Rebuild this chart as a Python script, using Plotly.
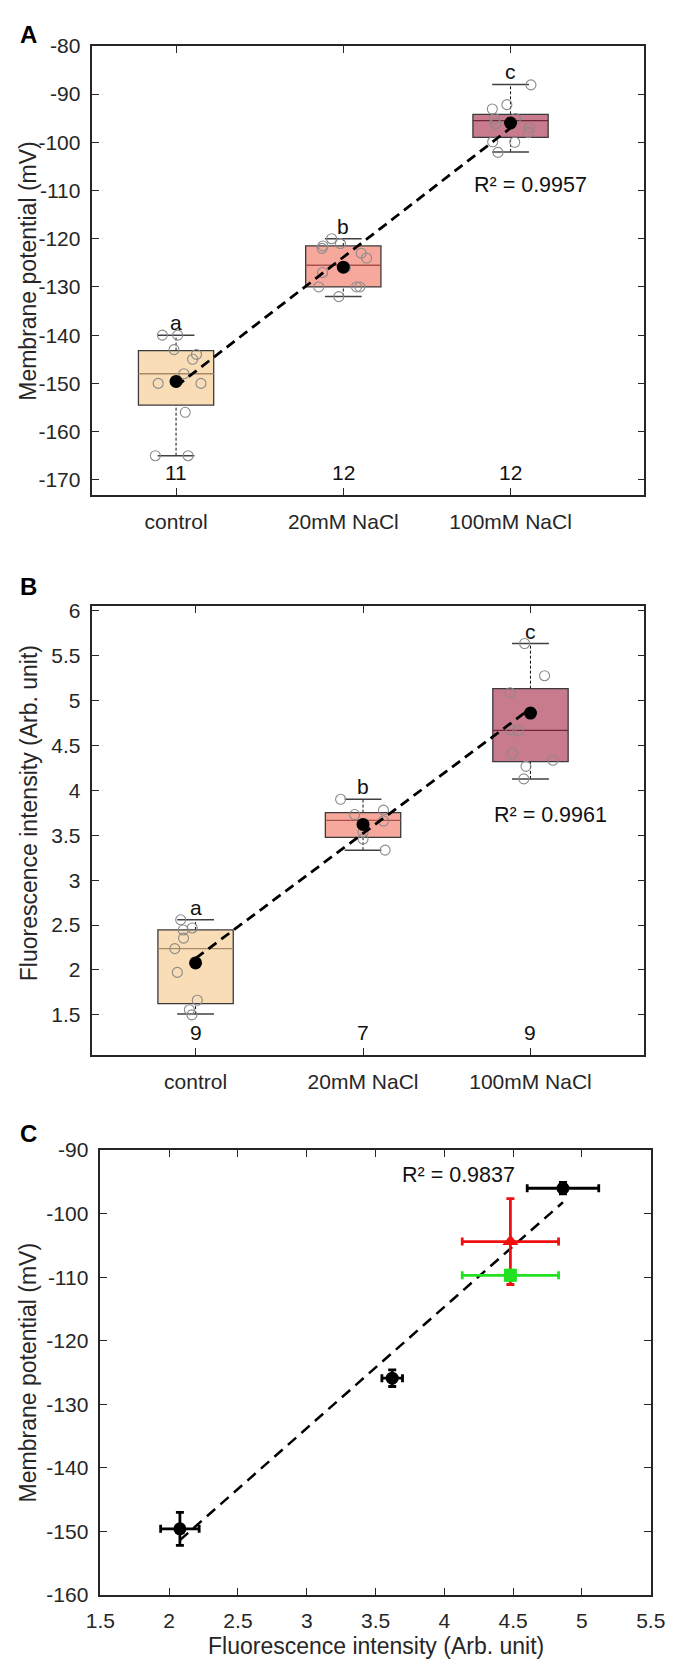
import numpy as np
import plotly.graph_objects as go

W, H = 682, 1670

groups = ["control", "20mM NaCl", "100mM NaCl"]
box_colors = ["#F9DDB6", "#F7A89C", "#C97B8E"]
median_colors = ["#A88A66", "#A8504A", "#6E2638"]

# ---------------- Panel A: membrane potential (mV) ----------------
a_q1 = [-154.5, -130.0, -99.0]
a_q3 = [-143.2, -121.5, -94.2]
a_median = [-148.0, -125.5, -95.5]
a_lo = [-165.0, -132.0, -102.0]
a_hi = [-140.0, -120.0, -88.0]
a_mean = [-149.6, -125.9, -96.0]
a_n = [11, 12, 12]
a_letters = ["a", "b", "c"]
a_r2 = "0.9957"
a_points = [
    [-140, -140, -143, -144, -145, -148, -150, -150, -156, -165, -165],
    [-120, -121, -121.5, -122, -123, -124, -127, -130, -130, -130, -132, -126],
    [-88.1, -92.2, -93.1, -95.1, -96.1, -95.1, -97.0, -98.0, -99.9, -100.0, -102.1, -96.0],
]
a_jitter = [
    [-0.082, 0.010, -0.012, 0.122, 0.099, 0.047, -0.107, 0.149, 0.055, -0.124, 0.072],
    [-0.070, -0.017, -0.122, -0.127, 0.107, 0.139, -0.124, -0.147, 0.079, 0.099, -0.027, 0.012],
    [0.122, -0.022, -0.109, -0.094, -0.089, 0.030, 0.112, 0.107, -0.107, 0.025, -0.075, 0.0],
]
a_yticks = [-170, -160, -150, -140, -130, -120, -110, -100, -90, -80]

# ---------------- Panel B: fluorescence intensity ----------------
b_q1 = [1.624, 3.477, 4.321]
b_q3 = [2.445, 3.753, 5.134]
b_median = [2.237, 3.667, 4.669]
b_lo = [1.507, 3.334, 4.128]
b_hi = [2.558, 3.901, 5.637]
b_mean = [2.078, 3.621, 4.862]
b_n = [9, 7, 9]
b_letters = ["a", "b", "c"]
b_r2 = "0.9961"
b_points = [
    [2.558, 2.467, 2.445, 2.354, 2.237, 1.972, 1.662, 1.556, 1.499],
    [3.901, 3.731, 3.780, 3.659, 3.534, 3.458, 3.334],
    [5.637, 5.278, 5.089, 4.676, 4.665, 4.411, 4.336, 4.268, 4.128],
]
b_jitter = [
    [-0.089, -0.020, -0.074, -0.072, -0.124, -0.109, 0.010, -0.037, -0.022],
    [-0.134, -0.050, 0.122, 0.122, 0.0, 0.0, 0.132],
    [-0.035, 0.084, -0.122, -0.117, -0.074, -0.109, 0.134, -0.027, -0.040],
]
b_yticks = [1.5, 2, 2.5, 3, 3.5, 4, 4.5, 5, 5.5, 6]

# ---------------- Panel C: potential vs fluorescence ----------------
c_x_sem = [0.14, 0.075, 0.26]
c_y_sem = [2.6, 1.3, 0.9]
c_red = {"x": 4.48, "y": -104.4, "xerr": 0.35, "yerr": 6.75}
c_green = {"x": 4.48, "y": -109.7, "xerr": 0.35, "yerr": 0.8}
c_r2 = "0.9837"
c_xticks = [1.5, 2, 2.5, 3, 3.5, 4, 4.5, 5, 5.5]
c_yticks = [-160, -150, -140, -130, -120, -110, -100, -90]

FONT = "'Liberation Sans', Arial, Helvetica, sans-serif"
AX = "#262626"

fig = go.Figure()
shapes = []
annotations = []


def px_x(v):
    return v / W


def px_y(v):
    return 1 - v / H


def add_box_panel(xa, ya, q1, q3, med, lo, hi, mean, pts, jit, n, letters, r2, r2pos):
    cats = np.arange(1, len(groups) + 1)
    bw, cw = 0.45, 0.22
    xr = "x" if xa == 1 else f"x{xa}"
    yr = "y" if ya == 1 else f"y{ya}"
    for i, c in enumerate(cats):
        shapes.append(dict(type="line", xref=xr, yref=yr, x0=c, x1=c, y0=q3[i], y1=hi[i],
                           line=dict(color="#111111", width=1, dash="3px,2px"), layer="below"))
        shapes.append(dict(type="line", xref=xr, yref=yr, x0=c, x1=c, y0=lo[i], y1=q1[i],
                           line=dict(color="#111111", width=1, dash="3px,2px"), layer="below"))
        for v in (lo[i], hi[i]):
            shapes.append(dict(type="line", xref=xr, yref=yr, x0=c - cw / 2, x1=c + cw / 2, y0=v, y1=v,
                               line=dict(color="#404040", width=1.5), layer="below"))
        shapes.append(dict(type="rect", xref=xr, yref=yr, x0=c - bw / 2, x1=c + bw / 2, y0=q1[i], y1=q3[i],
                           fillcolor=box_colors[i], line=dict(color="#3a3a3a", width=1.3), layer="below"))
        shapes.append(dict(type="line", xref=xr, yref=yr, x0=c - bw / 2, x1=c + bw / 2, y0=med[i], y1=med[i],
                           line=dict(color=median_colors[i], width=1.3), layer="below"))
        fig.add_trace(go.Scatter(
            x=c + np.array(jit[i]), y=pts[i], mode="markers", xaxis=xr, yaxis=yr,
            marker=dict(symbol="circle-open", size=10, color="#8a8a8a", line=dict(width=1.1)),
            showlegend=False, hoverinfo="skip"))
        annotations.append(dict(x=c, y=hi[i], xref=xr, yref=yr, text=letters[i], showarrow=False,
                                yanchor="bottom", yshift=-1, font=dict(size=21, color="#111", family=FONT)))
        annotations.append(dict(x=c, y=0, xref=xr, yref=f"{yr} domain", text=str(n[i]), showarrow=False,
                                yanchor="middle", yshift=23, font=dict(size=21, color="#111", family=FONT)))
    k, b = np.polyfit(cats, mean, 1)
    xl = np.array([cats[0], cats[-1]], dtype=float)
    fig.add_trace(go.Scatter(x=xl, y=k * xl + b, mode="lines", xaxis=xr, yaxis=yr,
                             line=dict(color="black", width=2.8, dash="10px,6px"),
                             showlegend=False, hoverinfo="skip"))
    fig.add_trace(go.Scatter(x=cats, y=mean, mode="markers", xaxis=xr, yaxis=yr,
                             marker=dict(size=13, color="black"), showlegend=False, hoverinfo="skip"))
    annotations.append(dict(x=r2pos[0], y=r2pos[1], xref=xr, yref=yr, text=f"R\u00b2 = {r2}",
                            showarrow=False, font=dict(size=21.5, color="#111", family=FONT)))


add_box_panel(1, 1, a_q1, a_q3, a_median, a_lo, a_hi, a_mean, a_points, a_jitter, a_n, a_letters, a_r2,
              (3.12, -108.8))
add_box_panel(2, 2, b_q1, b_q3, b_median, b_lo, b_hi, b_mean, b_points, b_jitter, b_n, b_letters, b_r2,
              (3.12, 3.73))

# Panel C
mx = np.array(b_mean)
my = np.array(a_mean)
k, b = np.polyfit(mx, my, 1)
xl = np.array([mx.min(), mx.max()])
fig.add_trace(go.Scatter(x=xl, y=k * xl + b, mode="lines", xaxis="x3", yaxis="y3",
                         line=dict(color="black", width=2.5, dash="11px,7px"),
                         showlegend=False, hoverinfo="skip"))
fig.add_trace(go.Scatter(
    x=mx, y=my, mode="markers", xaxis="x3", yaxis="y3",
    marker=dict(size=13, color="black", symbol="circle"),
    error_x=dict(type="data", array=c_x_sem, color="black", thickness=2.8, width=4),
    error_y=dict(type="data", array=c_y_sem, color="black", thickness=2.8, width=4),
    showlegend=False, hoverinfo="skip"))
fig.add_trace(go.Scatter(
    x=[c_red["x"]], y=[c_red["y"]], mode="markers", xaxis="x3", yaxis="y3",
    marker=dict(size=14, color="#F01010", symbol="triangle-up"),
    error_x=dict(type="data", array=[c_red["xerr"]], color="#F01010", thickness=2.8, width=4),
    error_y=dict(type="data", array=[c_red["yerr"]], color="#F01010", thickness=2.8, width=4),
    showlegend=False, hoverinfo="skip"))
fig.add_trace(go.Scatter(
    x=[c_green["x"]], y=[c_green["y"]], mode="markers", xaxis="x3", yaxis="y3",
    marker=dict(size=13, color="#22E022", symbol="square"),
    error_x=dict(type="data", array=[c_green["xerr"]], color="#22E022", thickness=2.8, width=4),
    error_y=dict(type="data", array=[c_green["yerr"]], color="#22E022", thickness=2.8, width=4),
    showlegend=False, hoverinfo="skip"))
annotations.append(dict(x=4.10, y=-93.9, xref="x3", yref="y3", text=f"R\u00b2 = {c_r2}",
                        showarrow=False, font=dict(size=21.5, color="#111", family=FONT)))

for lab, yy in (("A", 23), ("B", 583), ("C", 1137)):
    annotations.append(dict(x=px_x(14), y=px_y(yy), xref="paper", yref="paper", text=lab,
                            showarrow=False, xanchor="center", yanchor="middle",
                            font=dict(size=24, color="black", family=FONT, weight="bold")))
for txt, yy in (("Membrane potential (mV)", 262), ("Fluorescence intensity (Arb. unit)", 812),
                ("Membrane potential (mV)", 1379)):
    annotations.append(dict(x=px_x(14), y=px_y(yy), xref="paper", yref="paper", text=txt, textangle=-90,
                            showarrow=False, xanchor="center", yanchor="middle",
                            font=dict(size=23, color="#262626", family=FONT)))
annotations.append(dict(x=px_x(378), y=px_y(1657), xref="paper", yref="paper",
                        text="Fluorescence intensity (Arb. unit)", showarrow=False,
                        xanchor="center", yanchor="middle", font=dict(size=23, color="#262626", family=FONT)))


def fmt(v):
    return f"{v:g}"


axis_common = dict(showline=True, linecolor=AX, linewidth=1.6, mirror="ticks", ticks="inside",
                   ticklen=7, tickwidth=1.3, tickcolor=AX, showgrid=False, zeroline=False,
                   tickfont=dict(size=21, color="#262626", family=FONT))

fig.update_layout(
    width=W, height=H, margin=dict(l=0, r=0, t=0, b=0),
    paper_bgcolor="white", plot_bgcolor="white", showlegend=False,
    shapes=shapes, annotations=annotations,
    xaxis=dict(domain=[px_x(81), px_x(658.3)], range=[0.5, 3.8], tickvals=[1, 2, 3], ticktext=groups,
               anchor="y", ticklabelstandoff=7, **axis_common),
    yaxis=dict(domain=[px_y(490), px_y(34.3)], range=[-173.2, -80], tickvals=a_yticks,
               ticktext=[fmt(v) for v in a_yticks], anchor="x", ticklabelstandoff=6, **axis_common),
    xaxis2=dict(domain=[px_x(81), px_x(658.3)], range=[0.384, 3.68], tickvals=[1, 2, 3], ticktext=groups,
                anchor="y2", ticklabelstandoff=7, **axis_common),
    yaxis2=dict(domain=[px_y(1057.7), px_y(602.3)], range=[1.05, 6.055], tickvals=b_yticks,
                ticktext=[fmt(v) for v in b_yticks], anchor="x2", ticklabelstandoff=6, **axis_common),
    xaxis3=dict(domain=[px_x(89.3), px_x(665)], range=[1.5, 5.5], tickvals=c_xticks,
                ticktext=[fmt(v) for v in c_xticks], anchor="y3", ticklabelstandoff=6, **axis_common),
    yaxis3=dict(domain=[px_y(1605), px_y(1154)], range=[-160, -90], tickvals=c_yticks,
                ticktext=[fmt(v) for v in c_yticks], anchor="x3", ticklabelstandoff=6, **axis_common),
)

fig.write_html("out.html")
